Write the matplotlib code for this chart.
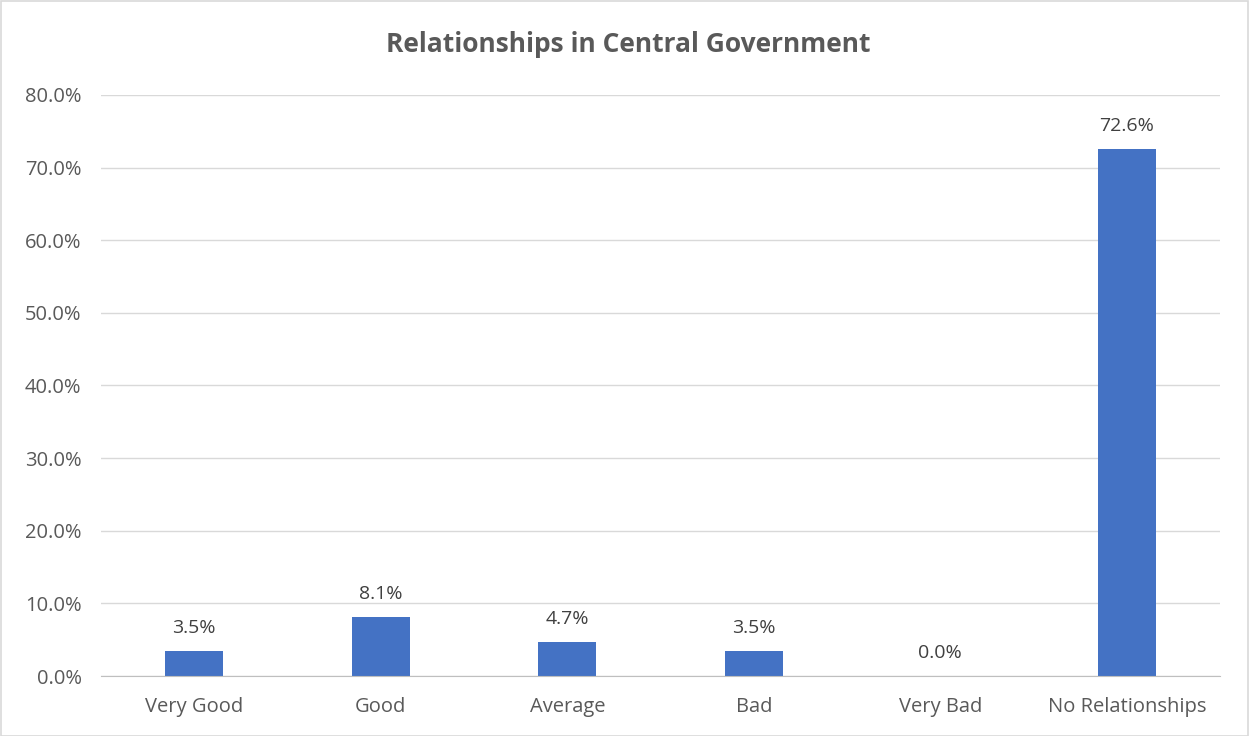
import matplotlib
matplotlib.use("Agg")
import matplotlib.pyplot as plt
from matplotlib.patches import Rectangle
from matplotlib.ticker import FuncFormatter, MultipleLocator

categories = ["Very Good", "Good", "Average", "Bad", "Very Bad", "No Relationships"]
values = [3.5, 8.1, 4.7, 3.5, 0.0, 72.6]
title = "Relationships in Central Government"

plt.rcParams["font.family"] = ["Open Sans", "DejaVu Sans"]

fig = plt.figure(figsize=(12.5, 7.36), dpi=100)
fig.patches.append(Rectangle((0.0005, 0.0005), 0.998, 0.998, transform=fig.transFigure,
                             fill=False, edgecolor="#d9d9d9", linewidth=1.2))

ax = fig.add_axes([0.0808, 0.0815, 0.8952, 0.7895])
x = range(len(categories))
ax.bar(x, values, width=0.31, color="#4472C4", zorder=3)

for xi, v in zip(x, values):
    ax.text(xi, v + 1.9, f"{v:.1f}%", ha="center", va="bottom",
            fontsize=14, color="#404040")

ax.set_xlim(-0.5, len(categories) - 0.5)
ax.set_ylim(0, 80)
ax.yaxis.set_major_locator(MultipleLocator(10))
ax.yaxis.set_major_formatter(FuncFormatter(lambda v, _: f"{v:.1f}%"))
ax.grid(axis="y", color="#d9d9d9", linewidth=1, zorder=0)
ax.set_xticks(list(x))
ax.set_xticklabels(categories)
ax.tick_params(axis="both", length=0, labelsize=14.5, labelcolor="#595959")
ax.tick_params(axis="x", pad=15)
ax.tick_params(axis="y", pad=14)

for side in ("top", "right", "left"):
    ax.spines[side].set_visible(False)
ax.spines["bottom"].set_color("#bfbfbf")
ax.spines["bottom"].set_zorder(4)

fig.text(0.5025, 0.94, title, ha="center", va="center",
         fontsize=19, fontweight="bold", color="#595959")

fig.savefig("out.png", dpi=100, facecolor="white")
